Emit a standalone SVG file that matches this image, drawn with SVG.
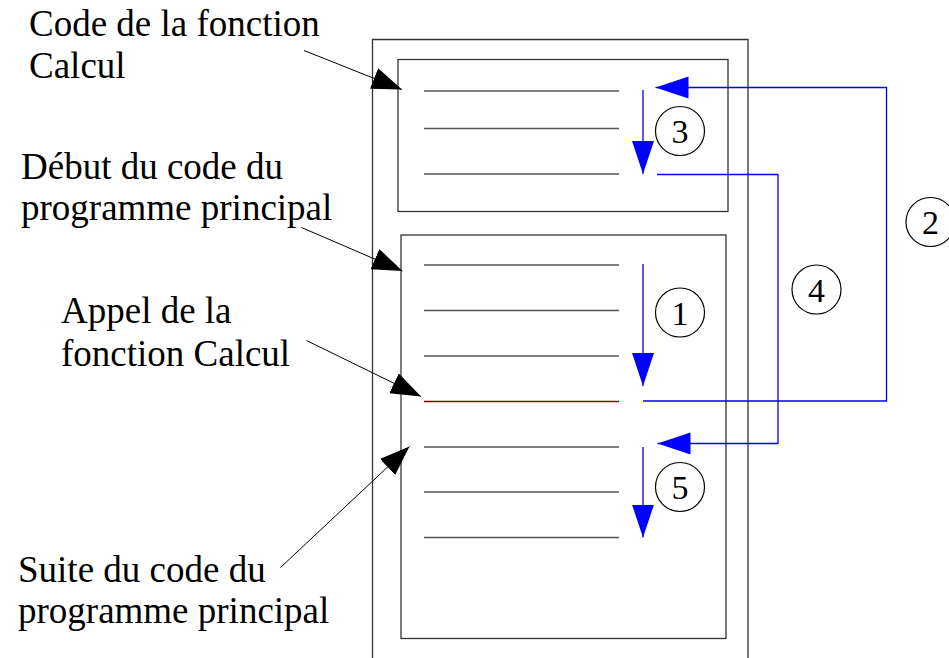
<svg xmlns="http://www.w3.org/2000/svg" width="949" height="658" viewBox="0 0 949 658">
  <style>
    .frame { fill: none; stroke: #333; stroke-width: 1.3; }
    .code { stroke: #555; stroke-width: 1.5; }
    .call { stroke: #8b0000; stroke-width: 1.3; }
    .flowhead { fill: none; stroke: #0000ff; stroke-width: 1.3; marker-end: url(#blueArrow); }
    .pointer { fill: none; stroke: #000; stroke-width: 1; marker-end: url(#blackArrow); }
    .step circle { fill: none; stroke: #000; stroke-width: 1.2; }
    .step text { font-size: 34px; text-anchor: middle; fill: #000; }
    .label { font-size: 37px; fill: #000; }
  </style>
  <defs>
    <marker id="blackArrow" markerUnits="userSpaceOnUse" markerWidth="32" markerHeight="24" refX="30" refY="11" orient="auto">
      <path d="M0,0 L30,11 L0,22 z" fill="#000"/>
    </marker>
    <marker id="blueArrow" markerUnits="userSpaceOnUse" markerWidth="36" markerHeight="24" refX="33" refY="11" orient="auto">
      <path d="M0,0 L33,11 L0,22 z" fill="#0000ff"/>
    </marker>
  </defs>

  <!-- memory block -->
  <g id="memory">
    <path class="frame" d="M372.5,665 V39.5 H748 V665"/>
  </g>

  <!-- function body -->
  <g id="fonction-calcul">
    <rect class="frame" x="398" y="59.5" width="330" height="152"/>
    <line class="code" x1="424" y1="91" x2="619" y2="91"/>
    <line class="code" x1="424" y1="128.5" x2="619" y2="128.5"/>
    <line class="code" x1="424" y1="174" x2="619" y2="174"/>
  </g>

  <!-- main program -->
  <g id="programme-principal">
    <rect class="frame" x="401" y="235" width="325" height="403.5"/>
    <line class="code" x1="424" y1="265" x2="619" y2="265"/>
    <line class="code" x1="424" y1="310.5" x2="619" y2="310.5"/>
    <line class="code" x1="424" y1="356" x2="619" y2="356"/>
    <line class="call" x1="424" y1="401.5" x2="619" y2="401.5"/>
    <line class="code" x1="424" y1="447" x2="619" y2="447"/>
    <line class="code" x1="424" y1="492" x2="619" y2="492"/>
    <line class="code" x1="424" y1="537.5" x2="619" y2="537.5"/>
  </g>

  <!-- labels and step numbers share one serif face -->
  <g font-family="'Liberation Serif', 'DejaVu Serif', serif">
    <g id="label-fonction">
      <text class="label" x="29" y="36">Code de la fonction</text>
      <text class="label" x="29" y="77.5">Calcul</text>
    </g>
    <g id="label-debut">
      <text class="label" x="21" y="179">Début du code du</text>
      <text class="label" x="21" y="220">programme principal</text>
    </g>
    <g id="label-appel">
      <text class="label" x="61" y="323">Appel de la</text>
      <text class="label" x="61" y="366">fonction Calcul</text>
    </g>
    <g id="label-suite">
      <text class="label" x="18" y="581.5">Suite du code du</text>
      <text class="label" x="18" y="623">programme principal</text>
    </g>

    <g id="step-1" class="step"><circle cx="680" cy="312.5" r="24.5"/><text x="680" y="324.5">1</text></g>
    <g id="step-2" class="step"><circle cx="930.5" cy="222" r="24.5"/><text x="930.5" y="234">2</text></g>
    <g id="step-3" class="step"><circle cx="680" cy="131" r="24.5"/><text x="680" y="143">3</text></g>
    <g id="step-4" class="step"><circle cx="816.5" cy="289.5" r="24.5"/><text x="816.5" y="301.5">4</text></g>
    <g id="step-5" class="step"><circle cx="680" cy="487" r="24.5"/><text x="680" y="499">5</text></g>
  </g>

  <!-- connectors -->
  <g id="connectors">
    <!-- label pointers -->
    <line class="pointer" x1="304" y1="50.5" x2="402" y2="89.5"/>
    <line class="pointer" x1="301.5" y1="227.5" x2="402.5" y2="271"/>
    <line class="pointer" x1="306.5" y1="340.5" x2="421" y2="396.5"/>
    <line class="pointer" x1="280.5" y1="567.5" x2="409.5" y2="446.5"/>

    <!-- execution flow -->
    <line class="flowhead" x1="643" y1="264" x2="643" y2="386"/>
    <path class="flowhead" d="M643,401 H886.5 V87.5 H655.5"/>
    <line class="flowhead" x1="643" y1="90" x2="643" y2="174"/>
    <path class="flowhead" d="M657,174.5 H778 V443.5 H657.5"/>
    <line class="flowhead" x1="643" y1="447" x2="643" y2="537.5"/>
  </g>
</svg>
